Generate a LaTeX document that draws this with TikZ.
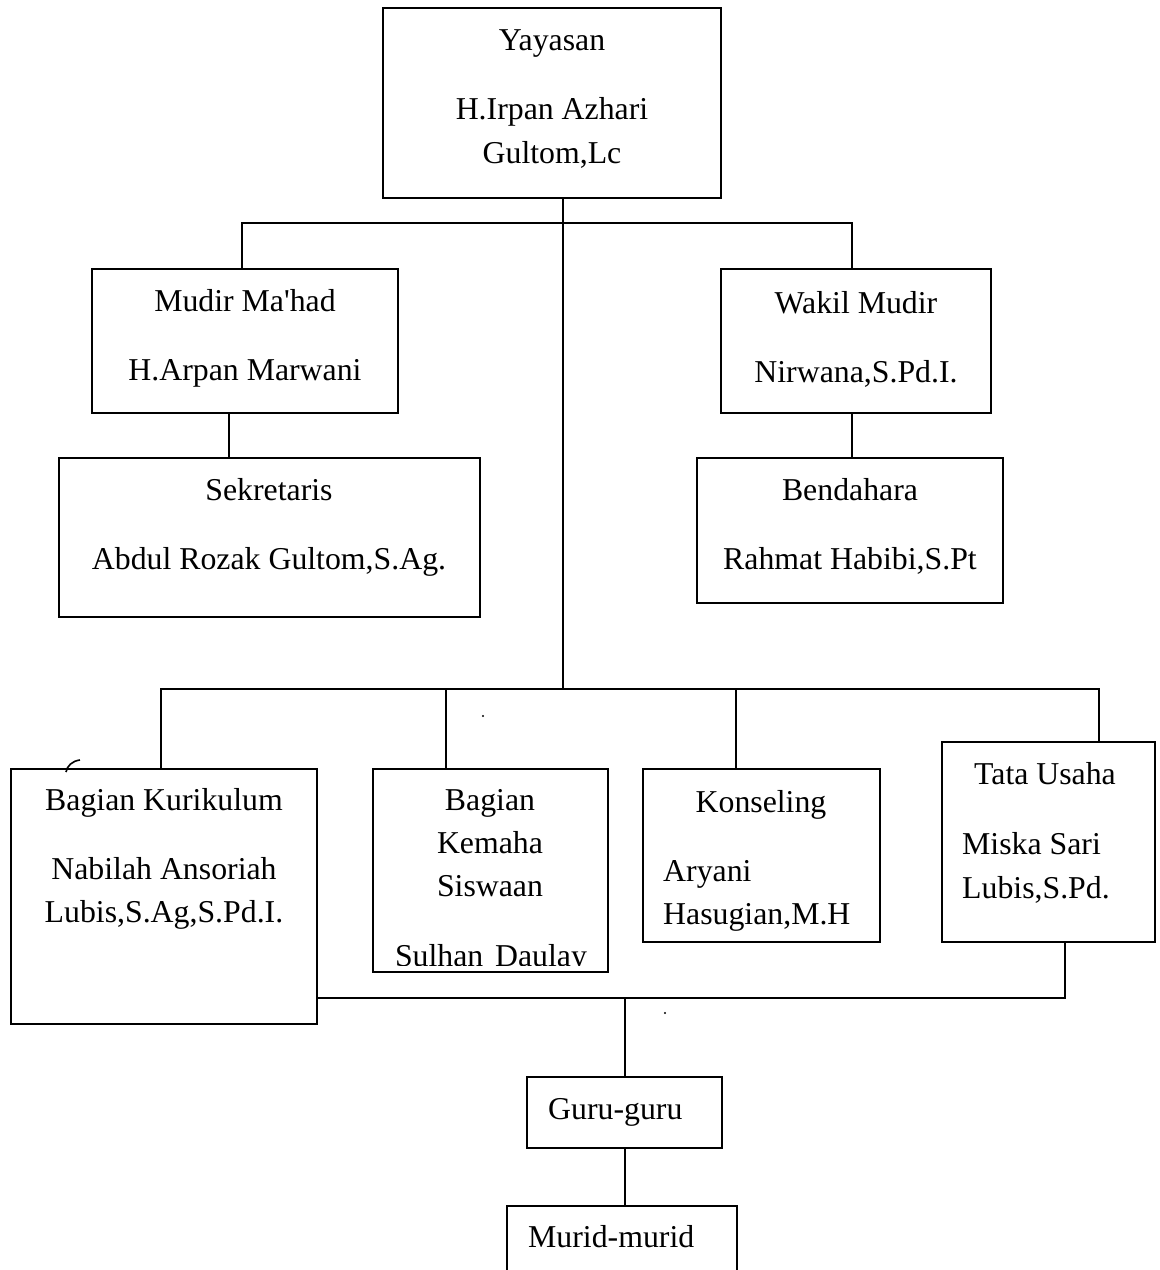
\documentclass[tikz,border=0pt]{standalone}
\usepackage{fontspec}
\newfontfamily\lib{Liberation Serif}
\begin{document}
\begin{tikzpicture}[x=1pt,y=-1pt,
  box/.style={draw, line width=1.8pt, inner sep=0pt, outer sep=0pt, anchor=north west},
  txt/.style={inner sep=0pt, yshift=-2pt, font=\lib\fontsize{31.8pt}{38pt}\selectfont},
  ctr/.style={txt, anchor=base},
  lft/.style={txt, anchor=base west},
  conn/.style={line width=1.8pt}]
\clip (0,0) rectangle (1160,1270);
\useasboundingbox (0,0) rectangle (1160,1270);
% boxes
\node[box, minimum width=338pt, minimum height=190pt] (yay) at (383,8) {};
\node[box, minimum width=306pt, minimum height=144pt] (mudir) at (92,269) {};
\node[box, minimum width=421pt, minimum height=159pt] (sek) at (59,458) {};
\node[box, minimum width=270pt, minimum height=144pt] (wakil) at (721,269) {};
\node[box, minimum width=306pt, minimum height=145pt] (bend) at (697,458) {};
\node[box, minimum width=306pt, minimum height=255pt] (kur) at (11,769) {};
\node[box, minimum width=235pt, minimum height=203pt] (bag) at (373,769) {};
\node[box, minimum width=237pt, minimum height=173pt] (kons) at (643,769) {};
\node[box, minimum width=213pt, minimum height=200pt] (tata) at (942,742) {};
\node[box, minimum width=195pt, minimum height=71pt] (guru) at (527,1077) {};
\node[box, minimum width=230pt, minimum height=80pt] (murid) at (507,1206) {};
% texts
\node[ctr] (t1) at (552,48) {Yayasan};
\node[ctr] (t2) at (552,117) {H.Irpan Azhari};
\node[ctr] (t3) at (552,161) {Gultom,Lc};
\node[ctr] (t4) at (245,309) {Mudir Ma'had};
\node[ctr] (t5) at (245,378) {H.Arpan Marwani};
\node[ctr] (t6) at (269,498) {Sekretaris};
\node[ctr] (t7) at (269,567) {Abdul Rozak Gultom,S.Ag.};
\node[ctr] (t8) at (856,311) {Wakil Mudir};
\node[ctr] (t9) at (856,380) {Nirwana,S.Pd.I.};
\node[ctr] (t10) at (850,498) {Bendahara};
\node[ctr] (t11) at (850,567) {Rahmat Habibi,S.Pt};
\node[ctr] (t12) at (164,808) {Bagian Kurikulum};
\node[ctr] (t13) at (164,877) {Nabilah Ansoriah};
\node[ctr] (t14) at (164,920) {Lubis,S.Ag,S.Pd.I.};
\node[ctr] (t15) at (490,808) {Bagian};
\node[ctr] (t16) at (490,851) {Kemaha};
\node[ctr] (t17) at (490,894) {Siswaan};
\begin{scope}
\clip (373,769) rectangle (608,965);
\node[ctr] (t18) at (491,964) {Sulhan\hspace{0.37em}Daulay};
\end{scope}
\node[ctr] (t19) at (761,810) {Konseling};
\node[lft] (t20) at (663,879) {Aryani};
\node[lft] (t21) at (663,922) {Hasugian,M.H};
\node[ctr] (t22) at (1045,782) {Tata Usaha};
\node[lft] (t23) at (962,852) {Miska Sari};
\node[lft] (t24) at (962,896) {Lubis,S.Pd.};
\node[lft] (t25) at (548,1117) {Guru-guru};
\node[lft] (t26) at (528,1245) {Murid-murid};
% junction coordinates
\coordinate (j1) at (563,223);
\coordinate (j2) at (563,689);
\coordinate (j3) at (625,998);
\coordinate (mx) at (242,0);
\coordinate (wx) at (852,0);
\coordinate (sx) at (229,0);
\coordinate (k1) at (161,0);
\coordinate (k2) at (446,0);
\coordinate (k3) at (736,0);
\coordinate (k4) at (1099,0);
\coordinate (k5) at (1065,0);
% connectors
\draw[conn] (yay.south -| j1) -- (j2);
\draw[conn] (mudir.north -| mx) |- (j1) -| (wakil.north -| wx);
\draw[conn] (mudir.south -| sx) -- (sek.north -| sx);
\draw[conn] (wakil.south -| wx) -- (bend.north -| wx);
\draw[conn] (kur.north -| k1) |- (j2) -| (tata.north -| k4);
\draw[conn] (bag.north -| k2) -- (k2 |- j2);
\draw[conn] (kons.north -| k3) -- (k3 |- j2);
\draw[conn] (kur.east |- j3) -| (tata.south -| k5);
\draw[conn] (j3) -- (guru.north -| j3);
\draw[conn] (guru.south -| j3) -- (murid.north -| j3);
% stray marks
\fill (483,716) circle (1.2);
\fill (665,1013) circle (1.2);
\draw[line width=1.6pt] (66,772) .. controls (67,766) and (72,761) .. (80,760);
\end{tikzpicture}
\end{document}
